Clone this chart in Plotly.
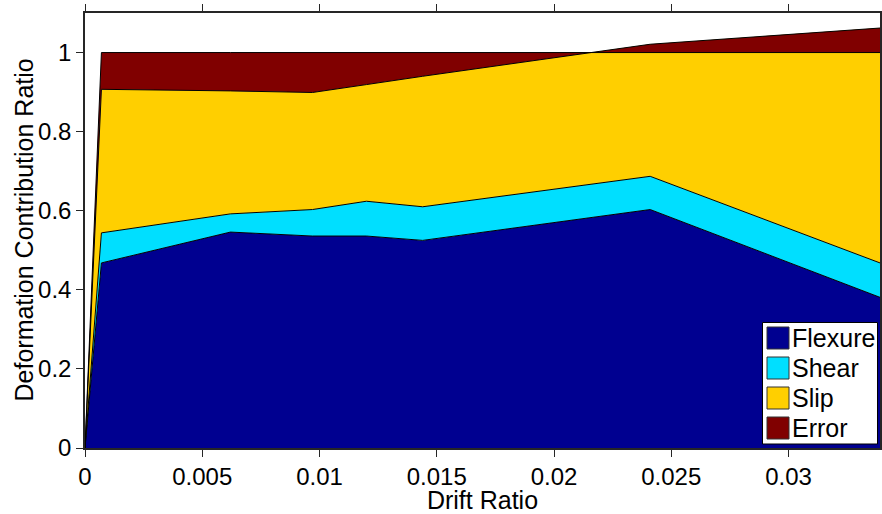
import plotly.graph_objects as go

# Drift ratio at each load step
drift = [0.0, 0.0007, 0.0062, 0.0097, 0.0120, 0.0144, 0.0241, 0.0339]

# Contribution of each deformation component (stacked in this order)
flexure = [0.0, 0.468, 0.546, 0.536, 0.536, 0.525, 0.603, 0.381]
shear   = [0.0, 0.076, 0.046, 0.067, 0.088, 0.085, 0.084, 0.087]
slip    = [0.0, 0.363, 0.311, 0.296, 0.295, 0.330, 0.334, 0.594]
error   = [0.0, 0.093, 0.097, 0.101, 0.081, 0.060, -0.021, -0.062]

names = ["Flexure", "Shear", "Slip", "Error"]
colors = ["#000090", "#00DFFF", "#FFCF00", "#800000"]

x_ticks = [0, 0.005, 0.01, 0.015, 0.02, 0.025, 0.03]
x_tick_text = ["0", "0.005", "0.01", "0.015", "0.02", "0.025", "0.03"]
y_ticks = [0, 0.2, 0.4, 0.6, 0.8, 1.0]
y_tick_text = ["0", "0.2", "0.4", "0.6", "0.8", "1"]

x_title = "Drift Ratio"
y_title = "Deformation Contribution Ratio"

FONT = "Liberation Sans, Arial, Helvetica, sans-serif"
AXIS_COLOR = "#262626"
TICK_FONT = dict(family=FONT, size=24, color="black")
LABEL_FONT = dict(family=FONT, size=25, color="black")

fig = go.Figure()
for name, vals, col in zip(names, [flexure, shear, slip, error], colors):
    fig.add_trace(go.Scatter(
        x=drift, y=vals, name=name, mode="lines",
        stackgroup="one", fillcolor=col,
        line=dict(color="black", width=1),
        showlegend=False,
    ))

# Layout helpers: convert page pixels to paper coordinates of the plot area
W, H = 882, 514
L, R, T, B = 85, 2, 13, 66
pw, ph = W - L - R, H - T - B


def px(xp):
    return (xp - L) / pw


def py(yp):
    return (H - B - yp) / ph


# Boxed legend with square swatches
shapes = [dict(type="rect", xref="paper", yref="paper",
               x0=px(762.5), x1=px(877.5), y0=py(444), y1=py(322.5),
               fillcolor="white", line=dict(color="black", width=1))]
annotations = []
row_centers = [338, 368, 398, 428]
for name, col, yc in zip(names, colors, row_centers):
    shapes.append(dict(type="rect", xref="paper", yref="paper",
                       x0=px(767), x1=px(789), y0=py(yc + 11), y1=py(yc - 11),
                       fillcolor=col, line=dict(color="#333333", width=1)))
    annotations.append(dict(xref="paper", yref="paper", x=px(790), y=py(yc),
                            xanchor="left", yanchor="middle", showarrow=False,
                            text=name, font=LABEL_FONT))

# Vertical axis title
annotations.append(dict(xref="paper", yref="paper", x=px(23), y=0.5,
                        xanchor="center", yanchor="middle", showarrow=False,
                        textangle=-90, text=y_title, font=LABEL_FONT))

fig.update_layout(
    width=W, height=H,
    margin=dict(l=L, r=R, t=T, b=B, pad=0),
    paper_bgcolor="white", plot_bgcolor="white",
    font=TICK_FONT,
    shapes=shapes, annotations=annotations,
    showlegend=False,
)
fig.update_xaxes(
    range=[0, drift[-1]], tickvals=x_ticks, ticktext=x_tick_text,
    tickfont=TICK_FONT, ticklabelstandoff=-1,
    showgrid=False, zeroline=False,
    showline=True, linecolor=AXIS_COLOR, linewidth=1.5, mirror="ticks",
    ticks="outside", ticklen=7, tickcolor=AXIS_COLOR,
    title=dict(text=x_title, standoff=0, font=LABEL_FONT),
    automargin=False,
)
fig.update_yaxes(
    range=[0, 1.1], tickvals=y_ticks, ticktext=y_tick_text,
    tickfont=TICK_FONT,
    showgrid=False, zeroline=False,
    showline=True, linecolor=AXIS_COLOR, linewidth=1.5, mirror=True,
    ticks="outside", ticklen=7, tickcolor=AXIS_COLOR,
    automargin=False,
)

fig.write_html("out.html")
